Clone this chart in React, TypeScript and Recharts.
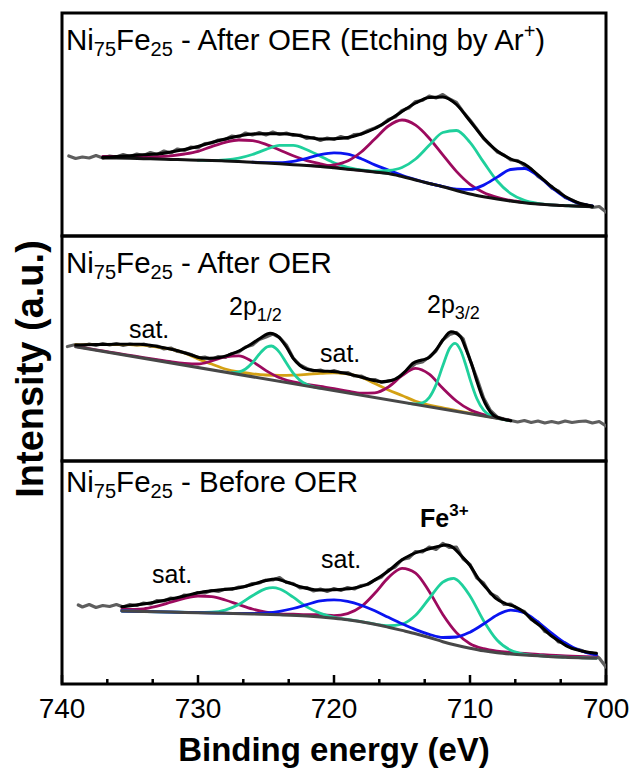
import React from 'react';
import { LineChart, Line, XAxis, YAxis, ReferenceArea } from 'recharts';

type P = [number, number];

const FONT = '"Liberation Sans", Arial, Helvetica, sans-serif';

// ---------- x axis ----------
const majorTicks = [740, 730, 720, 710, 700];
const minorTicks = [736.67, 733.33, 726.67, 723.33, 716.67, 713.33, 706.67, 703.33];

// ---------- top panel : After OER (Etching by Ar+) ----------
const topData: P[] = [
  [739.5, 80], [739, 77.5], [738.5, 79], [738, 78], [737.5, 80.5], [737, 78], [736.5, 80], [736, 79],
  [735.5, 81.5], [735, 79.5], [734.5, 82], [734, 80.5], [733.5, 83.5], [733, 81.5], [732.5, 85], [732, 83],
  [731.5, 87], [731, 85.5], [730.5, 89], [730, 88], [729.5, 92.5], [729, 93], [728.5, 96], [728, 96.5],
  [727.5, 100], [727, 99], [726.5, 103], [726, 101], [725.5, 103.5], [725, 101], [724.5, 104], [724, 101.5],
  [723.5, 103], [723, 100.5], [722.5, 101], [722, 97.5], [721.5, 98.5], [721, 95.5], [720.5, 98], [720, 96.5],
  [719.5, 99.5], [719, 97.5], [718.5, 101.5], [718, 102], [717.5, 105.5], [717, 108], [716.5, 111], [716, 116.5],
  [715.5, 119], [715, 125.5], [714.5, 128], [714, 134.5], [713.5, 135.5], [713, 140], [712.5, 138], [712, 141.5],
  [711.5, 137], [711, 133.5], [710.5, 124], [710, 116], [709.5, 107], [709, 97.5], [708.5, 91], [708, 84],
  [707.5, 81], [707, 76], [706.5, 75.5], [706, 70.5], [705.5, 67], [705, 59.5], [704.5, 55], [704, 48],
  [703.5, 45], [703, 38.5], [702.5, 36], [702, 32], [701.5, 31.5], [701, 28.5], [700.5, 29.5], [700, 24],
];
const topBackground: P[] = [
  [737, 78.1], [736, 77.9], [735, 77.7], [734, 77.3], [733, 77], [732, 76.6], [731, 76.2], [730, 75.8],
  [729, 75.5], [728, 75], [727, 74.4], [726, 73.7], [725, 73], [724, 72.2], [723, 71.3], [722, 70.5],
  [721, 69.5], [720, 68.2], [719, 66.8], [718, 65.5], [717, 64], [716, 62.5], [715, 59.5], [714, 56],
  [713, 52.5], [712, 49.3], [711, 45.5], [710, 42], [709, 39.3], [708, 37], [707, 35], [706, 33.3],
  [705, 32], [704, 31], [703, 30.3], [702, 29.7], [701, 29.3],
];
const topSatMaroon: P[] = [
  [737, 79.5], [736, 79.5], [735, 79.3], [734, 79.2], [733, 79.4], [732, 80.2], [731, 82], [730, 84.7],
  [729, 89.4], [728, 93.6], [727, 96], [726, 95.3], [725, 91.6], [724, 86], [723, 80.2], [722, 75.4],
  [721, 72.2], [720, 69.2], [719, 67.1], [718, 65.6], [717, 64.1], [716, 62.6],
];
const topSatGreen: P[] = [
  [730, 75.8], [729, 75.6], [728, 76.2], [727, 77.9], [726, 81.5], [725, 86.6], [724, 90.6], [723, 90.6],
  [722, 86.3], [721, 79.8], [720, 73.2], [719, 68.7], [718, 66.1], [717, 64.2], [716, 62.6],
];
const topSatBlue: P[] = [
  [726, 73.8], [725, 73.4], [724, 73.4], [723, 74.7], [722, 77.6], [721, 81.4], [720, 83.2], [719, 81.9],
  [718, 77.3], [717, 71.1], [716, 65.9], [715, 60.7], [714, 56.4], [713, 52.6], [712, 49.3],
];
const topMainMaroon: P[] = [
  [722, 70.6], [721, 70], [720, 71.2], [719, 75], [718, 84], [717, 97], [716, 110], [715, 116],
  [714, 110.8], [713, 97.8], [712, 81.1], [711, 64.6], [710, 51.7], [709, 43.5], [708, 38.6], [707, 35.5],
  [706, 33.6], [705, 32.2], [704, 31.2], [703, 30.5], [702, 29.9], [701, 29.5],
];
const topMainGreen: P[] = [
  [718, 65.6], [717, 64.8], [716, 65.5], [715, 68.5], [714, 77], [713, 90.7], [712, 103.5], [711, 105.5],
  [710, 93.6], [709, 73.9], [708, 55], [707, 42.3], [706, 35.6], [705, 32.6], [704, 31.1], [703, 30.4],
  [702, 29.8], [701, 29.4],
];
const topMainBlue: P[] = [
  [713, 52.6], [712, 49.5], [711, 46.9], [710, 46.6], [709, 50.9], [708, 58.9], [707, 66.5], [706, 67.5],
  [705, 60.2], [704, 48.6], [703, 38.6], [702, 32.7], [701, 30.1],
];
const topEnvelope: P[] = [
  [737, 78.7], [736, 79.5], [735, 80.3], [734, 81.2], [733, 82], [732, 84], [731, 86.5], [730, 89.5],
  [729, 93.5], [728, 97], [727, 100], [726, 102], [725, 102.3], [724, 102.2], [723, 101.5], [722, 99],
  [721, 97], [720, 97.3], [719, 98.5], [718, 102], [717, 107.5], [716, 115.5], [715, 124.5], [714, 133],
  [713, 138.5], [712, 139], [711, 131.5], [710, 115], [709, 98], [708, 85], [707, 77], [706, 72],
  [705, 61], [704, 49.5], [703, 39.5], [702, 33], [701, 30],
];

// ---------- middle panel : After OER ----------
const midData: P[] = [
  [739.6, 114.5], [739, 116.5], [738.5, 115], [738, 117], [737.5, 115.5], [737, 117.5], [736.5, 116], [736, 117.5],
  [735.5, 115.5], [735, 117], [734.5, 116], [734, 117], [733.5, 114.5], [733, 115], [732.5, 112], [732, 113],
  [731.5, 109.5], [731, 108.5], [730.5, 106.5], [730, 103], [729.5, 104], [729, 101.5], [728.5, 104.5], [728, 103.5],
  [727.5, 107.5], [727, 109], [726.5, 114], [726, 116], [725.5, 121.5], [725, 124], [724.5, 127], [724, 123.5],
  [723.5, 116], [723, 103], [722.5, 96], [722, 92.5], [721.5, 90], [721, 91], [720.5, 88.5], [720, 90.5],
  [719.5, 88], [719, 88.5], [718.5, 85], [718, 85], [717.5, 81.5], [717, 81.5], [716.5, 78.5], [716, 80],
  [715.5, 81], [715, 86.5], [714.5, 92], [714, 97.5], [713.5, 99], [713, 104], [712.5, 110], [712, 121],
  [711.5, 126.5], [711, 128.5], [710.5, 122], [710, 101], [709.5, 83], [709, 63], [708.5, 50.5], [708, 44],
  [707.5, 42], [707, 40.5], [706.5, 39], [706, 40.5], [705.5, 38.5], [705, 40], [704.5, 38], [704, 39.5],
  [703.5, 38], [703, 40], [702.5, 38.5], [702, 39.5], [701.5, 40], [701, 38], [700.5, 39.5], [700, 35],
];
const midBackground: P[] = [[739, 114.3], [707, 40.3]];
const midSatellite: P[] = [
  [739, 116], [738, 116.3], [737, 116.5], [736, 116.5], [735, 116.3], [734, 115.8], [733, 114], [732, 111.8],
  [731, 108], [730, 102], [729, 97], [728, 92], [727, 89], [726, 87.2], [725, 86], [724, 85.6],
  [723, 85.8], [722, 86.6], [721, 87.6], [720, 88.2], [719, 87.2], [718, 83.8], [717, 77.5], [716, 71],
  [715, 65.5], [714, 59.8], [713, 56], [712, 53.2], [711, 50.3], [710, 47.8], [709, 45.3], [708, 42.8],
  [707, 40.3],
];
const midMaroon: P[] = [
  [739, 114.6], [738, 112.3], [737, 110.1], [736, 107.8], [735, 105.6], [734, 103.4], [733, 101.3], [732, 99.3],
  [731, 97.7], [730, 97], [729, 100], [728, 104.1], [727, 105.1], [726, 99.4], [725, 90.4], [724, 83.3],
  [723, 79.1], [722, 76.7], [721, 74.5], [720, 72.4], [719, 69.9], [718, 67.9], [717, 68.2], [716, 74],
  [715, 85.3], [714, 92.7], [713, 86.9], [712, 72.7], [711, 60], [710, 51.2], [709, 46.4], [708, 43.1],
  [707, 40.6],
];
const midGreen12: P[] = [
  [727.5, 88.4], [727, 89.1], [726.5, 92], [726, 98.2], [725.5, 106.7], [725, 113.5], [724.9, 114.3], [724.6, 115],
  [724.3, 112.9], [724, 108.5], [723.5, 98], [723, 87.9], [722.5, 80.7], [722, 76.6], [721.5, 74.2], [721, 72.8],
];
const midGreen32: P[] = [
  [714.5, 57.7], [714, 57.1], [713.5, 58.1], [713, 63.4], [712.5, 76.1], [712, 95.2], [711.5, 112.8], [711.1, 117.7],
  [710.7, 111], [710.3, 95.5], [710, 81.9], [709.5, 62.5], [709, 50.8], [708.5, 45.4], [708, 42.9], [707.5, 41.5],
  [707, 40.3],
];
const midEnvelope: P[] = [
  [739, 116], [737.5, 116.4], [736, 116.8], [734.3, 116.7], [733, 114.6], [731.7, 111], [730.5, 106], [729.6, 102.7],
  [728.7, 103], [727.75, 106], [727, 110], [726.2, 116], [725.4, 123], [724.7, 127.7], [724.1, 124.3], [723.5, 114],
  [723, 102.7], [722.5, 95.5], [722, 91.7], [721, 90], [719.9, 89.3], [719, 87.3], [718.1, 84.3], [717.3, 81.2],
  [716.5, 79.3], [715.8, 80.5], [715.2, 84.3], [714.7, 90.5], [714.2, 97.7], [713.6, 100.8], [713.1, 102.7], [712.5, 111],
  [712, 121], [711.4, 129.3], [710.7, 124.3], [710.3, 112], [709.9, 97.7], [709.5, 80], [709.1, 64.3], [708.7, 53],
  [708.3, 46], [707.6, 42], [707, 40.3],
];

// ---------- bottom panel : Before OER ----------
const botData: P[] = [
  [738.8, 79], [738.5, 77], [738, 79.5], [737.5, 76.5], [737, 78.5], [736.5, 77.5], [736, 79.5], [735.5, 77],
  [735, 79.5], [734.5, 78.5], [734, 81], [733.5, 80], [733, 83.5], [732.5, 83], [732, 86], [731.5, 85],
  [731, 89], [730.5, 88.5], [730, 91.5], [729.5, 91], [729, 93.5], [728.5, 92.5], [728, 95], [727.5, 94.5],
  [727, 97], [726.5, 97.5], [726, 100.5], [725.5, 101], [725, 104], [724.5, 104], [724, 106.5], [723.5, 101.5],
  [723, 100.5], [722.5, 96], [722, 96.5], [721.5, 93], [721, 95], [720.5, 92.5], [720, 95.5], [719.5, 93.5],
  [719, 96.5], [718.5, 95], [718, 98.5], [717.5, 99.5], [717, 104], [716.5, 107], [716, 114], [715.5, 117],
  [715, 124.5], [714.5, 126], [714, 132.5], [713.5, 132], [713, 137], [712.5, 134.5], [712, 140.5], [711.5, 136.5],
  [711, 137], [710.5, 125], [710, 119.5], [709.5, 106], [709, 101], [708.5, 90.5], [708, 87], [707.5, 79.5],
  [707, 80], [706.5, 75], [706, 72.5], [705.5, 64.5], [705, 62], [704.5, 52.5], [704, 50], [703.5, 42],
  [703, 41], [702.5, 35.5], [702, 34.5], [701.5, 32], [701, 31], [700.5, 26], [700, 17],
];
const botBackground: P[] = [
  [735.6, 73], [734, 72.5], [732, 71.9], [730, 71.3], [728, 70.7], [726, 70], [724, 69.2], [722, 68],
  [720, 65.8], [719, 64.3], [718, 62.3], [717, 59.8], [716, 56.8], [715, 53.6], [714, 50.3], [713, 46.5],
  [712, 42.3], [711, 38.8], [710, 35.8], [709, 33.2], [708, 31.3], [707, 30], [706, 29], [705, 28.2],
  [704, 27.3], [703, 26.7], [702, 26.2], [701, 25.8], [700.7, 25.7],
];
const botMaroon: P[] = [
  [735.6, 74.5], [734, 75.2], [733, 77.9], [732, 81.8], [731, 85.7], [730, 88], [729, 87.4], [728, 84],
  [727, 79.4], [726, 75], [725, 71.9], [724, 70.2], [723, 69.8], [722, 69.3], [721, 69.3], [720, 68.4],
  [719, 70.4], [718, 77.3], [717, 90.7], [716, 106.4], [715, 115.7], [714, 110.9], [713, 92.5], [712, 69.6],
  [711, 51.4], [710, 40.3], [709, 35.3], [708, 32.8], [707, 31.5], [705, 29.7], [703, 28.1], [700.7, 27.1],
];
const botGreen: P[] = [
  [735.6, 73], [732, 71.9], [730, 71.5], [729, 71.8], [728, 73.9], [727, 79.5], [726, 88.2], [725, 95.4],
  [724.5, 96.3], [724, 95], [723, 86.8], [722, 77.1], [721, 70.6], [720, 66.6], [719, 64.5], [718, 62.4],
  [717, 59.9], [716, 58.3], [715, 59.9], [714, 68.7], [713, 85.5], [712, 101.9], [711.2, 105.7], [711, 104.5],
  [710, 88.1], [709, 63.3], [708, 43.7], [707, 33.7], [706, 29.8], [705, 28.3], [703, 26.8], [700.7, 25.8],
];
const botBlue: P[] = [
  [735.6, 73], [730, 71.3], [728, 70.8], [727, 70.6], [726, 70.5], [725, 71.1], [724, 72.7], [723, 75.5],
  [722, 79.4], [721, 83.2], [720, 84.2], [719, 82.7], [718, 78.8], [717, 73.2], [716, 66.7], [715, 60.3],
  [714, 54.4], [713, 49.7], [712, 46.5], [711, 47], [710, 51.8], [709, 60], [708, 69], [707, 73.9],
  [706, 71.3], [705, 61.9], [704, 51], [703, 41], [702, 34], [701, 30], [700.7, 29.5],
];
const botEnvelope: P[] = [
  [735.6, 77.3], [734, 80], [733, 82.3], [732, 85], [731, 88], [730, 91.2], [729.6, 92.3], [728.5, 94],
  [727.2, 95.7], [726, 99.5], [725, 103.5], [724.3, 105], [723.5, 102], [722.5, 97.3], [721.2, 94], [720, 94.3],
  [718.6, 95.7], [717.6, 99.5], [716.8, 105.7], [716, 113], [715.2, 122.3], [714.3, 129.5], [713.3, 134], [712.5, 137],
  [711.7, 139], [711.2, 136], [710.7, 129], [710, 118.5], [709.4, 105.7], [708.7, 94.5], [708.1, 85.7], [707.4, 80.5],
  [706.7, 77.3], [706, 71.5], [705.4, 64], [704.7, 56.5], [704.1, 49], [703.4, 42.5], [702.8, 37.3], [701.8, 33],
  [700.7, 30.7],
];

// ---------- styling ----------
const C = {
  data: '#5e5e5e',
  fit: '#000000',
  maroon: '#9c0a5e',
  green: '#1fd09c',
  blue: '#0a14f0',
  gold: '#d4a114',
  bgDark: '#474747',
  bgBlack: '#111111',
};

type Series = { pts: P[]; color: string; width: number; kind: 'linear' | 'monotone' };

const PANELS: { top: number; bottom: number; series: Series[] }[] = [
  {
    top: 13,
    bottom: 236,
    series: [
      { pts: topData, color: C.data, width: 3.2, kind: 'linear' },
      { pts: topSatMaroon, color: C.maroon, width: 2.8, kind: 'monotone' },
      { pts: topSatGreen, color: C.green, width: 2.8, kind: 'monotone' },
      { pts: topSatBlue, color: C.blue, width: 2.8, kind: 'monotone' },
      { pts: topMainMaroon, color: C.maroon, width: 2.8, kind: 'monotone' },
      { pts: topMainGreen, color: C.green, width: 2.8, kind: 'monotone' },
      { pts: topMainBlue, color: C.blue, width: 2.8, kind: 'monotone' },
      { pts: topBackground, color: C.bgBlack, width: 3, kind: 'monotone' },
      { pts: topEnvelope, color: C.fit, width: 3, kind: 'monotone' },
    ],
  },
  {
    top: 236,
    bottom: 461,
    series: [
      { pts: midData, color: C.data, width: 3.2, kind: 'linear' },
      { pts: midSatellite, color: C.gold, width: 2.8, kind: 'monotone' },
      { pts: midMaroon, color: C.maroon, width: 2.8, kind: 'monotone' },
      { pts: midGreen12, color: C.green, width: 2.8, kind: 'monotone' },
      { pts: midGreen32, color: C.green, width: 2.8, kind: 'monotone' },
      { pts: midBackground, color: C.bgDark, width: 3, kind: 'linear' },
      { pts: midEnvelope, color: C.fit, width: 3, kind: 'monotone' },
    ],
  },
  {
    top: 461,
    bottom: 684,
    series: [
      { pts: botData, color: C.data, width: 3.2, kind: 'linear' },
      { pts: botMaroon, color: C.maroon, width: 2.8, kind: 'monotone' },
      { pts: botGreen, color: C.green, width: 2.8, kind: 'monotone' },
      { pts: botBlue, color: C.blue, width: 2.8, kind: 'monotone' },
      { pts: botBackground, color: C.bgDark, width: 3, kind: 'monotone' },
      { pts: botEnvelope, color: C.fit, width: 3, kind: 'monotone' },
    ],
  },
];

const W = 632;
const H = 769;
const LEFT = 62;
const RIGHT = 606;
const AXIS_H = 50;

const toRows = (a: P[]) => a.map(([x, y]) => ({ x, y }));

const XTick = (props: any) => {
  const { x, y, payload } = props;
  const v = payload.value;
  const major = majorTicks.indexOf(v) >= 0;
  return (
    <g>
      <line x1={x} x2={x} y1={y} y2={y - (major ? 9 : 5)} stroke="#000" strokeWidth={2.5} />
      {major && (
        <text x={x} y={y + 34} textAnchor="middle" fontSize={28} fontFamily={FONT} fill="#000">
          {v}
        </text>
      )}
    </g>
  );
};

const Panel = ({ p, idx }: { p: (typeof PANELS)[number]; idx: number }) => {
  const h = p.bottom - p.top;
  const last = idx === PANELS.length - 1;
  return (
    <div style={{ position: 'absolute', left: 0, top: 0 }}>
      <LineChart
        width={W}
        height={H}
        margin={{ top: p.top, bottom: H - p.bottom - (last ? AXIS_H : 0), left: LEFT, right: W - RIGHT }}
      >
        <XAxis
          dataKey="x"
          type="number"
          domain={[700, 740]}
          reversed
          allowDataOverflow
          hide={!last}
          height={AXIS_H}
          ticks={[...majorTicks, ...minorTicks]}
          interval={0}
          tickSize={0}
          tickMargin={0}
          axisLine={false}
          tickLine={false}
          tick={<XTick />}
        />
        <YAxis type="number" domain={[0, h]} hide width={0} allowDataOverflow />
        {p.series.map((s, i) => (
          <Line
            key={i}
            data={toRows(s.pts)}
            dataKey="y"
            type={s.kind}
            stroke={s.color}
            strokeWidth={s.width}
            dot={false}
            activeDot={false}
            isAnimationActive={false}
            strokeLinejoin="round"
            strokeLinecap="round"
          />
        ))}
        <ReferenceArea
          x1={740}
          x2={700}
          y1={0}
          y2={h}
          fill="none"
          fillOpacity={0}
          stroke="#000"
          strokeWidth={3}
          ifOverflow="visible"
        />
      </LineChart>
    </div>
  );
};

const TS = 29.5;
const sub = 20;

export default function App() {
  return (
    <div style={{ position: 'absolute', left: 0, top: 0, width: W, height: H, background: '#fff' }}>
      {PANELS.map((p, i) => (
        <Panel key={i} p={p} idx={i} />
      ))}
      <svg
        width={W}
        height={H}
        style={{ position: 'absolute', left: 0, top: 0, pointerEvents: 'none' }}
        fontFamily={FONT}
      >
        {/* panel titles */}
        <text x={66} y={50} fontSize={TS} fill="#000">
          Ni<tspan fontSize={sub} dy={6}>75</tspan>
          <tspan dy={-6}>Fe</tspan>
          <tspan fontSize={sub} dy={6}>25</tspan>
          <tspan dy={-6}>{' - After OER (Etching by Ar'}</tspan>
          <tspan fontSize={sub} dy={-12}>+</tspan>
          <tspan dy={12}>)</tspan>
        </text>
        <text x={66} y={273} fontSize={TS} fill="#000">
          Ni<tspan fontSize={sub} dy={6}>75</tspan>
          <tspan dy={-6}>Fe</tspan>
          <tspan fontSize={sub} dy={6}>25</tspan>
          <tspan dy={-6}>{' - After OER'}</tspan>
        </text>
        <text x={66} y={492} fontSize={TS} fill="#000">
          Ni<tspan fontSize={sub} dy={6}>75</tspan>
          <tspan dy={-6}>Fe</tspan>
          <tspan fontSize={sub} dy={6}>25</tspan>
          <tspan dy={-6}>{' - Before OER'}</tspan>
        </text>

        {/* middle annotations */}
        <text x={129} y={338} fontSize={25} fill="#000">sat.</text>
        <text x={229} y={315} fontSize={25} fill="#000">
          2p<tspan fontSize={18} dy={6}>1/2</tspan>
        </text>
        <text x={320} y={362} fontSize={25} fill="#000">sat.</text>
        <text x={427} y={313} fontSize={25} fill="#000">
          2p<tspan fontSize={18} dy={6}>3/2</tspan>
        </text>

        {/* bottom annotations */}
        <text x={152} y={583} fontSize={25} fill="#000">sat.</text>
        <text x={321} y={568} fontSize={25} fill="#000">sat.</text>
        <text x={420} y={527} fontSize={25} fontWeight="bold" fill="#000">
          Fe<tspan fontSize={17} dy={-11}>3+</tspan>
        </text>

        {/* axis titles */}
        <text x={334} y={761} textAnchor="middle" fontSize={33} fontWeight="bold" fill="#000">
          Binding energy (eV)
        </text>
        <text
          transform="translate(43, 369) rotate(-90)"
          textAnchor="middle"
          fontSize={38}
          fontWeight="bold"
          fill="#000"
        >
          Intensity (a.u.)
        </text>
      </svg>
    </div>
  );
}
